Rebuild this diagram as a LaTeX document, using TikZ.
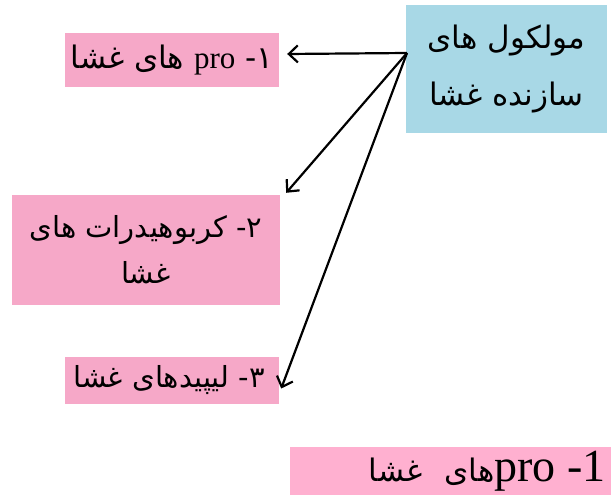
\documentclass[tikz,border=0pt]{standalone}
\usepackage{fontspec}
\usepackage{xcolor}
\usetikzlibrary{arrows.meta}
\newfontfamily\fafont[Script=Arabic]{DejaVu Sans}
\newfontfamily\enfont{Liberation Serif}
\TeXXeTstate=1
\definecolor{molblue}{RGB}{168,216,230}
\definecolor{partpink}{RGB}{246,168,200}
\definecolor{notepink}{RGB}{255,176,208}

\begin{document}
\begin{tikzpicture}[x=1pt,y=-1pt,
  part/.style={fill=partpink,inner sep=0pt,align=center,font=\fafont\fontsize{29}{46}\selectfont},
  >={Straight Barb[length=9pt,width=17pt]}]
  \useasboundingbox (0,0) rectangle (611,495);
  \node[fill=molblue,minimum width=201pt,minimum height=128pt,inner sep=0pt,align=center,
        font=\fafont\fontsize{31}{57}\selectfont] (mol) at (506.5,69)
        {\beginR مولکول های\endR\\\beginR سازنده غشا\endR};
  \node[part,minimum width=214pt,minimum height=54pt,font=\fafont\fontsize{31}{46}\selectfont] (p1) at (172,60)
        {\beginR ۱\kern0pt- {\enfont pro} های غشا\endR};
  \node[part,minimum width=268pt,minimum height=110pt] (p2) at (146,250)
        {\beginR ۲\kern0pt- کربوهیدرات های\endR\\\beginR غشا\endR};
  \node[part,minimum width=214pt,minimum height=47pt] (p3) at (172,380.5)
        {\beginR ۳\kern0pt- لیپیدهای غشا\endR\hspace{6pt}};
  \node[fill=notepink,minimum width=321pt,minimum height=48pt,text width=311pt,inner xsep=5pt,inner ysep=0pt,
        align=right] (note) at (450.5,471)
        {\beginR{\enfont\fontsize{46}{48}\selectfont 1\kern0pt-\hspace{12pt}pro}{\fafont\fontsize{31}{48}\selectfont های\hspace{22pt}غشا}\endR\hspace{6pt}};
  \coordinate (src) at (407,53);
  \draw[->,line width=2.2pt] (src) -- ([shift={(8,-6)}]p1.east);
  \draw[->,line width=2.2pt] (src) -- ([shift={(6,-2)}]p2.north east);
  \draw[->,line width=2.2pt] (src) -- ([shift={(2,8)}]p3.east);
\end{tikzpicture}
\end{document}
